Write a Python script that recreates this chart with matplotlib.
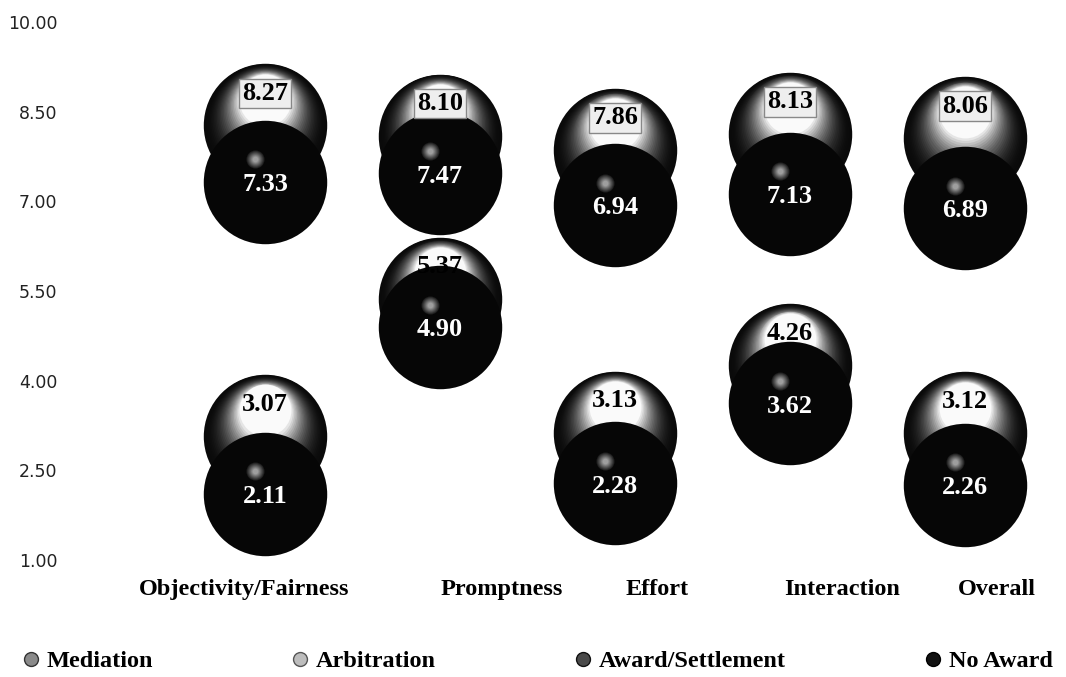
import numpy as np
import matplotlib
matplotlib.use('Agg')
import matplotlib.pyplot as plt
import matplotlib.transforms as mtransforms
from matplotlib.lines import Line2D

# values
categories = ['Objectivity/Fairness', 'Promptness', 'Effort', 'Interaction', 'Overall']
mediation = [8.27, 8.10, 7.86, 8.13, 8.06]
arbitration = [3.07, 5.37, 3.13, 4.26, 3.12]
award_settlement = [7.33, 7.47, 6.94, 7.13, 6.89]
no_award = [2.11, 4.90, 2.28, 3.62, 2.26]
series_names = ['Mediation', 'Arbitration', 'Award/Settlement', 'No Award']
y_ticks = [1.00, 2.50, 4.00, 5.50, 7.00, 8.50, 10.00]
# the category labels are not centred under the bubble columns in the original
label_pos = [0.88, 2.35, 3.24, 4.30, 5.18]

serif = 'Liberation Serif'
x = np.arange(1, len(categories) + 1)

fig = plt.figure(figsize=(10.66, 6.77), dpi=100)
ax = fig.add_axes([0.0657, 0.1728, 0.9193, 0.7947])
ax.set_xlim(-0.114, 5.486)
ax.set_ylim(1, 10)
for sp in ax.spines.values():
    sp.set_visible(False)

S = 7900                  # bubble area, points^2
R = np.sqrt(S) / 2        # bubble radius in points


def shift(dx, dy):
    return mtransforms.offset_copy(ax.transData, fig=fig, x=dx, y=dy, units='points')


def light_bubbles(ys, z):
    # sphere lit from above: stacked circles getting lighter and moving up
    n = 26
    for k in range(n):
        t = k / (n - 1)
        f = 1 - 0.58 * t
        g = 0.04 + 0.94 * t ** 2.2
        ax.scatter(x, ys, s=S * f ** 2, color=str(g), linewidths=0,
                   transform=shift(0, (1 - f) * R * 0.72), zorder=z + k * 0.01)


def dark_bubbles(ys, z):
    ax.scatter(x, ys, s=S, color='#060606', linewidths=0, zorder=z)
    n = 8
    for k in range(n):
        t = k / (n - 1)
        d = 13 - 9 * t
        g = 0.12 + 0.5 * t
        ax.scatter(x, ys, s=d ** 2, color=str(g), linewidths=0,
                   transform=shift(-7, 16), zorder=z + 0.1 + k * 0.01)


light_bubbles(mediation, 2)
dark_bubbles(award_settlement, 3)
light_bubbles(arbitration, 4)
dark_bubbles(no_award, 5)

# value labels
for xi, v in zip(x, mediation):
    ax.annotate(f'{v:.2f}', (xi, v), xytext=(0, 23), textcoords='offset points',
                ha='center', va='center', fontsize=19, fontweight='bold', family=serif,
                color='black', zorder=10,
                bbox=dict(boxstyle='square,pad=0.12', fc='#eeeeee', ec='#888888', lw=1))
for xi, v in zip(x, arbitration):
    ax.annotate(f'{v:.2f}', (xi, v), xytext=(0, 23), textcoords='offset points',
                ha='center', va='center', fontsize=19, fontweight='bold', family=serif,
                color='black', zorder=10)
for vals in (award_settlement, no_award):
    for xi, v in zip(x, vals):
        ax.annotate(f'{v:.2f}', (xi, v), xytext=(0, -2), textcoords='offset points',
                    ha='center', va='center', fontsize=19, fontweight='bold', family=serif,
                    color='white', zorder=10)

ax.set_yticks(y_ticks)
ax.set_yticklabels([f'{t:.2f}' for t in y_ticks], fontsize=12.5, color='#222222')
ax.set_xticks(label_pos)
ax.set_xticklabels(categories, fontsize=17.5, fontweight='bold', family=serif)
ax.tick_params(axis='y', length=0, pad=9)
ax.tick_params(axis='x', length=0, pad=14)

handles = [
    Line2D([], [], ls='', marker='o', markersize=10, mfc='#8a8a8a', mec='#333333'),
    Line2D([], [], ls='', marker='o', markersize=10, mfc='#bdbdbd', mec='#555555'),
    Line2D([], [], ls='', marker='o', markersize=10, mfc='#4a4a4a', mec='#111111'),
    Line2D([], [], ls='', marker='o', markersize=10, mfc='#111111', mec='#000000'),
]
fig.legend(handles, series_names, loc='center', bbox_to_anchor=(0.504, 16 / 677),
           ncol=4, frameon=False, handlelength=0.7, handletextpad=0.3,
           columnspacing=5.7, prop={'family': serif, 'weight': 'bold', 'size': 17.5})

fig.savefig('out.png', dpi=100)
